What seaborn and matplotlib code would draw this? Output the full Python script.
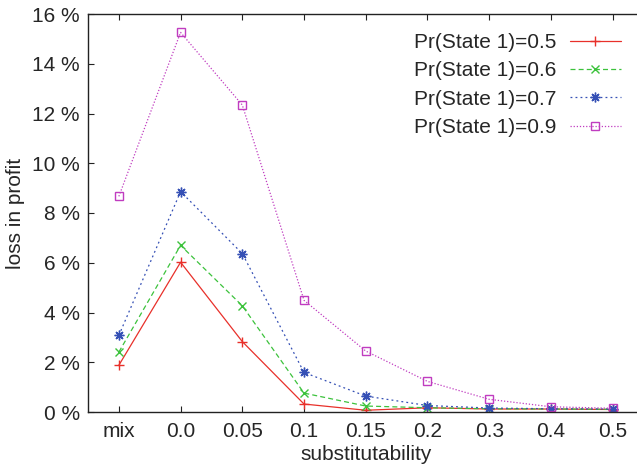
import matplotlib
matplotlib.use("Agg")
import matplotlib.pyplot as plt
import seaborn as sns
import pandas as pd

# substitutability categories on the x axis
categories = ['mix', '0.0', '0.05', '0.1', '0.15', '0.2', '0.3', '0.4', '0.5']

# loss in profit (%) for each Pr(State 1)
loss_05 = [1.88, 6.02, 2.83, 0.32, 0.07, 0.17, 0.12, 0.12, 0.10]
loss_06 = [2.41, 6.70, 4.27, 0.76, 0.24, 0.17, 0.13, 0.12, 0.11]
loss_07 = [3.08, 8.86, 6.37, 1.59, 0.64, 0.26, 0.16, 0.13, 0.12]
loss_09 = [8.67, 15.26, 12.34, 4.49, 2.45, 1.23, 0.51, 0.21, 0.15]

series_labels = ['Pr(State 1)=0.5', 'Pr(State 1)=0.6', 'Pr(State 1)=0.7', 'Pr(State 1)=0.9']
y_ticks = [0, 2, 4, 6, 8, 10, 12, 14, 16]

sns.set_style('ticks')
plt.rcParams['font.family'] = ['Liberation Sans', 'DejaVu Sans']
plt.rcParams['font.size'] = 15

fig = plt.figure(figsize=(6.37, 4.68), dpi=100)
ax = fig.add_axes([88 / 637, 56 / 468, 555.5 / 637, 398 / 468])

styles = [
    dict(color='#e8302a', linestyle='-', marker='+', markersize=7, mew=1.0, fillstyle='none'),
    dict(color='#3cc23c', linestyle=(0, (4, 2.5)), marker='x', markersize=6, mew=1.0, fillstyle='none'),
    dict(color='#3550b5', linestyle=(0, (1.5, 2.5)), marker=(8, 2, 0), markersize=7, mew=1.0, fillstyle='none'),
    dict(color='#c03cc0', linestyle=(0, (1, 1.5)), marker='s', markersize=6, mew=1.0, fillstyle='none'),
]

for values, label, st in zip([loss_05, loss_06, loss_07, loss_09], series_labels, styles):
    df = pd.DataFrame({'substitutability': categories, 'loss': values})
    sns.lineplot(data=df, x='substitutability', y='loss', sort=False, ax=ax,
                 label=label, linewidth=0.9, markeredgecolor=st['color'], **st)

ax.set_xlim(-0.5, 8.5)
ax.set_ylim(0, 16)
ax.set_yticks(y_ticks)
ax.set_yticklabels([f'{t} %' for t in y_ticks])
ax.set_xlabel('substitutability', fontsize=15, labelpad=3)
ax.set_ylabel('loss in profit', fontsize=15, labelpad=5)

ax.tick_params(axis='both', direction='in', length=4.5, width=0.8, labelsize=15, color='#222222')
ax.tick_params(axis='x', top=True, pad=7)
ax.tick_params(axis='y', right=False, pad=6)
for sp in ax.spines.values():
    sp.set_visible(True)
    sp.set_linewidth(1.0)
    sp.set_color('#222222')

leg = ax.legend(loc='upper right', bbox_to_anchor=(621 / 637, 1 - 33 / 468),
                bbox_transform=fig.transFigure, frameon=False, markerfirst=False,
                handlelength=2.45, handletextpad=0.65, labelspacing=0.45,
                borderpad=0, borderaxespad=0, numpoints=1, fontsize=15)

fig.savefig('out.png', dpi=100)
